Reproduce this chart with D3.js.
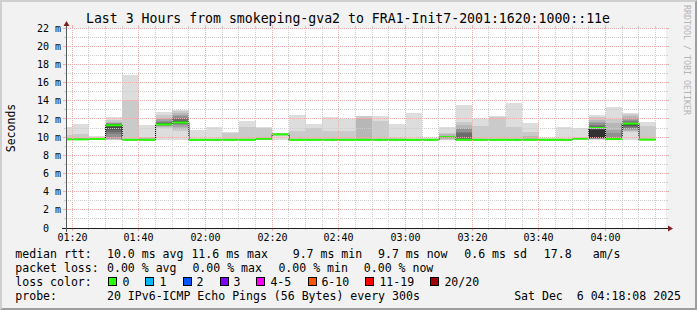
<!DOCTYPE html>
<html><head><meta charset="utf-8">
<script src="https://cdn.jsdelivr.net/npm/d3@7"></script>
<style>
body{margin:0;background:#f2f2f2}
svg{display:block}
text{font-family:"DejaVu Sans Mono",monospace;fill:#000}
</style>
</head><body>
<svg id="c" width="697" height="310"></svg>
<script>
// ---------------- DATA ----------------
const title = "Last 3 Hours from smokeping-gva2 to FRA1-Init7-2001:1620:1000::11e";
const yLabel = "Seconds";
const credit = "RRDTOOL / TOBI OETIKER";
const graphStart = "2025-12-06 01:18:08";
const graphEnd = "2025-12-06 04:18:08";

const intervalStart = ["01:15","01:20","01:25","01:30","01:35","01:40","01:45","01:50","01:55","02:00",
  "02:05","02:10","02:15","02:20","02:25","02:30","02:35","02:40","02:45","02:50",
  "02:55","03:00","03:05","03:10","03:15","03:20","03:25","03:30","03:35","03:40",
  "03:45","03:50","03:55","04:00","04:05","04:10"];

// median rtt (ms) per 5-minute step
const median = [9.75,9.75,9.8,11.3,9.7,9.7,11.4,11.6,9.7,9.7,
  9.7,9.7,9.82,10.3,9.7,9.7,9.7,9.7,9.7,9.7,
  9.7,9.7,9.7,10.0,9.7,9.7,9.7,9.7,9.7,9.7,
  9.7,9.83,11.0,9.8,11.48,9.72];

// packet loss per step (pings lost out of 20)
const loss = [0,0,0,0,0,0,0,0,0,0,0,0,0,0,0,0,0,0,0,0,0,0,0,0,0,0,0,0,0,0,0,0,0,0,0,0];

// smoke layers per step: [low, high] ping ms, outermost layer first
const smoke = [
  [[9.65,11.1],[9.7,10.2]],
  [[9.65,11.45],[9.7,10.35]],
  [[9.7,10.1]],
  [[9.7,12.2],[9.7,11.9],[9.75,11.7],[9.8,11.6],[10.0,11.5],[10.3,11.45],[10.6,11.4],[10.8,11.35],[11.0,11.33],[11.2,11.32]],
  [[9.65,16.85],[9.7,14.1]],
  [[9.65,11.35],[9.7,10.05],[9.72,9.95]],
  [[9.7,12.72],[10.95,12.4],[11.1,12.1],[11.2,11.95],[11.25,11.8],[11.3,11.7],[11.33,11.6],[11.35,11.5]],
  [[9.7,12.98],[10.7,12.85],[10.9,12.6],[11.1,12.45],[11.3,12.3],[11.4,12.1],[11.45,11.95],[11.5,11.8],[11.55,11.7]],
  [[9.65,10.8]],
  [[9.65,11.15]],
  [[9.65,10.6],[9.7,10.5]],
  [[9.65,11.8],[9.7,11.08]],
  [[9.65,11.15],[9.7,11.0]],
  [[9.7,10.5],[10.1,10.45]],
  [[9.65,12.45],[9.7,10.7]],
  [[9.65,11.45],[9.7,10.95]],
  [[9.65,12.25],[9.7,10.7]],
  [[9.65,12.0],[9.7,10.7]],
  [[9.65,12.36],[9.7,12.3],[9.7,12.05]],
  [[9.65,12.36],[9.7,11.8]],
  [[9.65,11.45],[9.7,9.9]],
  [[9.65,12.7]],
  [[9.65,9.9]],
  [[9.65,11.12],[9.7,10.45],[9.8,10.3],[9.9,10.15]],
  [[9.65,13.53],[9.7,11.7],[9.7,11.3],[9.7,11.0],[9.7,10.85],[9.7,10.6],[9.7,10.5]],
  [[9.65,11.97],[9.7,11.24]],
  [[9.65,12.32],[9.7,12.18]],
  [[9.65,13.79],[9.7,11.11]],
  [[9.65,11.55],[9.7,10.56],[9.7,10.1]],
  [[9.65,9.85]],
  [[9.65,11.11]],
  [[9.7,10.97]],
  [[9.7,12.43],[9.75,12.2],[9.8,11.9],[9.82,11.7],[9.84,11.5],[9.85,11.35],[9.86,11.2],[9.86,11.1],[9.87,11.0],[9.88,10.8]],
  [[9.65,13.31],[9.7,12.0],[9.72,11.6],[9.75,10.78],[9.78,10.4]],
  [[9.65,12.65],[10.6,12.5],[10.7,12.3],[10.8,12.1],[10.9,11.9],[11.0,11.75],[11.1,11.6],[11.2,11.55],[11.3,11.52]],
  [[9.65,11.7],[9.7,11.26]]
];

const yTickValues = [0,2,4,6,8,10,12,14,16,18,20,22];
const yTickLabels = ["0","2 m","4 m","6 m","8 m","10 m","12 m","14 m","16 m","18 m","20 m","22 m"];
const xTickLabels = ["01:20","01:40","02:00","02:20","02:40","03:00","03:20","03:40","04:00"];

const rttLegend = ["median rtt:","10.0 ms avg","11.6 ms max","9.7 ms min","9.7 ms now","0.6 ms sd","17.8","am/s"];
const lossTextLegend = ["packet loss:","0.00 % avg","0.00 % max","0.00 % min","0.00 % now"];
const lossLabels = ["0","1","2","3","4-5","6-10","11-19","20/20"];
const lossColors = ["#26ff00","#00b8ff","#0059ff","#7e00ff","#ff00ff","#ff5500","#ff0000","#a10000"];
const lossColorTitle = "loss color:";
const probeLegend = ["probe:","20 IPv6-ICMP Echo Pings (56 Bytes) every 300s"];
const stamp = "Sat Dec  6 04:18:08 2025";

// ---------------- DRAW ----------------
const W = 697, H = 310;
const X0 = 66, X1 = 666, Y0 = 228, Y1 = 28;
const svg = d3.select("#c");
const full = d3.timeParse("%Y-%m-%d %H:%M:%S");
const hm = d3.timeParse("%Y-%m-%d %H:%M");
const day = "2025-12-06 ";
const t0 = full(graphStart), t1 = full(graphEnd);
const x = d3.scaleTime().domain([t0, t1]).range([X0, X1]);
const y = d3.scaleLinear().domain([0, 22]).range([Y0, Y1]);

// background + bevel
svg.append("rect").attr("width", W).attr("height", H).attr("fill", "#f2f2f2");
svg.append("polygon").attr("points", `0,${H} 0,0 ${W},0 ${W-2},2 2,2 2,${H-2}`).attr("fill", "#cfcfcf");
svg.append("polygon").attr("points", `${W},0 ${W},${H} 0,${H} 2,${H-2} ${W-2},${H-2} ${W-2},2`).attr("fill", "#9e9e9e");

// canvas
svg.append("rect").attr("x", X0).attr("y", Y1).attr("width", X1 - X0).attr("height", Y0 - Y1).attr("fill", "#fff");

svg.append("clipPath").attr("id", "pc").append("rect")
  .attr("x", X0).attr("y", Y1).attr("width", X1 - X0).attr("height", Y0 - Y1);
const plot = svg.append("g").attr("clip-path", "url(#pc)");

const steps = intervalStart.map((s, i) => {
  const a = hm(day + s);
  const b = d3.timeMinute.offset(a, 5);
  return { a, b, i };
});
const layerColor = i => { const c = Math.floor(190 / 10 * (10 - (i + 1))) + 50; return d3.rgb(c, c, c).formatHex(); };

// smoke
steps.forEach(st => {
  smoke[st.i].forEach((L, li) => {
    const xa = Math.max(X0, x(st.a)), xb = x(st.b);
    plot.append("rect")
      .attr("x", xa).attr("width", xb - xa)
      .attr("y", y(L[1])).attr("height", y(L[0]) - y(L[1]))
      .attr("fill", layerColor(li)).attr("shape-rendering", "crispEdges");
  });
});

// black median step line
const pts = steps.map(st => [Math.max(X0, x(st.a)), y(median[st.i])]);
pts.push([x(steps[steps.length - 1].b), y(median[median.length - 1])]);
plot.append("path").attr("d", d3.line().curve(d3.curveStepAfter)(pts))
  .attr("fill", "none").attr("stroke", "#000").attr("stroke-width", 1);

// loss-coloured median bars (2px)
const lossIdx = l => l === 0 ? 0 : l === 1 ? 1 : l === 2 ? 2 : l === 3 ? 3 : l <= 5 ? 4 : l <= 10 ? 5 : l <= 19 ? 6 : 7;
steps.forEach(st => {
  const xa = Math.max(X0, x(st.a)), xb = x(st.b);
  plot.append("rect").attr("x", xa).attr("width", xb - xa)
    .attr("y", y(median[st.i]) - 1).attr("height", 2)
    .attr("fill", lossColors[lossIdx(loss[st.i])]);
});

// grid
const gridMinor = "#cdcdcd", gridMajor = "#f0adad";
const g = svg.append("g").attr("shape-rendering", "crispEdges");
const minorT = d3.timeMinute.every(5).range(d3.timeSecond.offset(t0, 1), t1);
const majorSet = new Set(xTickLabels.map(s => +hm(day + s)));
minorT.forEach(t => {
  const px = Math.floor(x(t)) + 0.5;
  const maj = majorSet.has(+t);
  const c = maj ? gridMajor : gridMinor;
  g.append("line").attr("x1", px).attr("x2", px).attr("y1", Y1).attr("y2", Y0)
    .attr("stroke", c).attr("stroke-dasharray", "1,1");
  g.append("line").attr("x1", px).attr("x2", px).attr("y1", Y0).attr("y2", Y0 + (maj ? 3 : 2)).attr("stroke", c);
  g.append("line").attr("x1", px).attr("x2", px).attr("y1", Y1 - (maj ? 3 : 2)).attr("y2", Y1).attr("stroke", c);
});
y.ticks(22).forEach(v => {
  if (v === 0) return;
  const py = Math.floor(y(v)) + 0.5;
  const maj = v % 2 === 0;
  const c = maj ? gridMajor : gridMinor;
  g.append("line").attr("x1", X0).attr("x2", X1).attr("y1", py).attr("y2", py)
    .attr("stroke", c).attr("stroke-dasharray", "1,1");
  g.append("line").attr("x1", X0 - (maj ? 3 : 2)).attr("x2", X0).attr("y1", py).attr("y2", py).attr("stroke", c);
  g.append("line").attr("x1", X1).attr("x2", X1 + (maj ? 3 : 2)).attr("y1", py).attr("y2", py).attr("stroke", c);
});

// axes
g.append("line").attr("x1", X0 - 4).attr("x2", X1 + 4).attr("y1", Y0 + 0.5).attr("y2", Y0 + 0.5).attr("stroke", "#1f1f1f");
g.append("line").attr("x1", X0 + 0.5).attr("x2", X0 + 0.5).attr("y1", Y0 + 4).attr("y2", Y1 - 4).attr("stroke", "#5a5a5a");
svg.append("polygon").attr("points", `${X1+2},${Y0+3.5} ${X1+2},${Y0-2.5} ${X1+7},${Y0+0.5}`).attr("fill", "#801f1f");
svg.append("polygon").attr("points", `${X0-2.5},${Y1-2} ${X0+3.5},${Y1-2} ${X0+0.5},${Y1-7}`).attr("fill", "#801f1f");

// y labels
yTickValues.forEach((v, i) => {
  const lab = yTickLabels[i];
  const hasUnit = lab.indexOf(" ") >= 0;
  svg.append("text").attr("x", hasUnit ? 61 : 49).attr("y", y(v) + 3.6)
    .attr("text-anchor", "end").attr("font-size", "10px").text(lab);
});
// x labels
xTickLabels.forEach(s => {
  svg.append("text").attr("x", Math.floor(x(hm(day + s))) + 0.5).attr("y", 241)
    .attr("text-anchor", "middle").attr("font-size", "10px").text(s);
});

// title
svg.append("text").attr("x", 348).attr("y", 23).attr("text-anchor", "middle")
  .attr("font-size", "13.2px").text(title);
// vertical label
svg.append("text").attr("transform", "translate(14.5,128) rotate(-90)")
  .attr("text-anchor", "middle").attr("font-size", "11.5px").text(yLabel);
// credit
svg.append("text").attr("transform", "translate(684,5) rotate(90)")
  .attr("font-size", "8.3px").style("fill", "#b4b4b4").text(credit);

// legend
const LF = "11.55px";
const leg = (txt, lx, ly, anchor) => svg.append("text").attr("x", lx).attr("y", ly)
  .attr("font-size", LF).attr("text-anchor", anchor || "start").attr("xml:space", "preserve").text(txt);
const row1X = [15.3, 107, 191.4, 292.7, 378, 464.3, 543.8, 592.7];
rttLegend.forEach((t, i) => leg(t, row1X[i], 257.7));
const row2X = [15.3, 107, 192.4, 278.4, 363.8];
lossTextLegend.forEach((t, i) => leg(t, row2X[i], 271.7));
leg(lossColorTitle, 15.3, 285.7);
const boxX = [108, 145.3, 182.7, 219.6, 256.4, 307.6, 365.3, 430];
const labX = [122.4, 159.4, 196.4, 233.4, 270.4, 321.4, 379.4, 444.4];
lossLabels.forEach((t, i) => {
  svg.append("rect").attr("x", Math.round(boxX[i]) + 0.5).attr("y", 277.5).attr("width", 8).attr("height", 8)
    .attr("fill", lossColors[i]).attr("stroke", "#000").attr("stroke-width", 1);
  leg(t, labX[i], 285.7);
});
leg(probeLegend[0], 15.3, 299.7);
leg(probeLegend[1], 107, 299.7);
leg(stamp, 681, 299.7, "end");
</script>
</body></html>
